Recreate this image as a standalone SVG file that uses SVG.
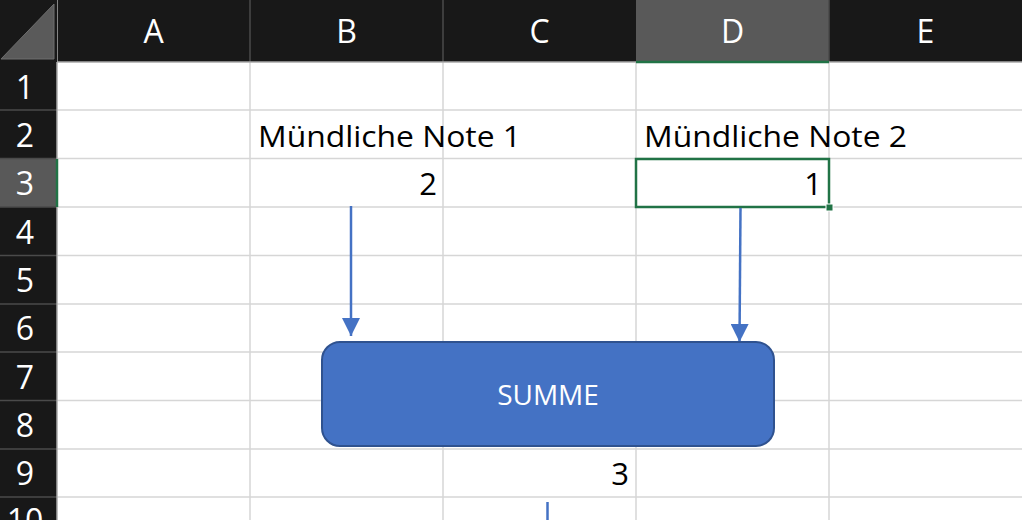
<svg xmlns="http://www.w3.org/2000/svg" width="1022" height="520" viewBox="0 0 1022 520">
  <defs>
    <style>
      .grid { stroke: #d6d6d6; stroke-width: 1.5; }
      .hsep { stroke: #4a4a4a; stroke-width: 1.5; }
      .hdr { font-family: "Open Sans", "Liberation Sans", sans-serif; font-size: 32px; fill: #ffffff; text-anchor: middle; }
      .cell { font-family: "Open Sans", "Liberation Sans", sans-serif; font-size: 30px; fill: #000000; }
      .num { text-anchor: end; font-size: 31px; }
      .conn { stroke: #4472C4; stroke-width: 2.5; fill: none; }
    </style>
    <marker id="arr" markerWidth="18" markerHeight="18" refX="17" refY="8.5" orient="auto" markerUnits="userSpaceOnUse" viewBox="0 0 17 17">
      <path d="M0,0 L17,8.5 L0,17 Z" fill="#4472C4"/>
    </marker>
  </defs>

  <!-- sheet background -->
  <rect x="0" y="0" width="1022" height="520" fill="#ffffff"/>

  <!-- grid lines -->
  <g id="grid">
    <line class="grid" x1="57" y1="110" x2="1022" y2="110"/>
    <line class="grid" x1="57" y1="158.5" x2="1022" y2="158.5"/>
    <line class="grid" x1="57" y1="207" x2="1022" y2="207"/>
    <line class="grid" x1="57" y1="255.5" x2="1022" y2="255.5"/>
    <line class="grid" x1="57" y1="304" x2="1022" y2="304"/>
    <line class="grid" x1="57" y1="352" x2="1022" y2="352"/>
    <line class="grid" x1="57" y1="400.5" x2="1022" y2="400.5"/>
    <line class="grid" x1="57" y1="449" x2="1022" y2="449"/>
    <line class="grid" x1="57" y1="497" x2="1022" y2="497"/>
    <line class="grid" x1="250" y1="62" x2="250" y2="520"/>
    <line class="grid" x1="443" y1="62" x2="443" y2="520"/>
    <line class="grid" x1="636" y1="62" x2="636" y2="520"/>
    <line class="grid" x1="829" y1="62" x2="829" y2="520"/>
  </g>

  <!-- headers -->
  <g id="column-headers">
    <rect x="0" y="0" width="1022" height="62" fill="#181818"/>
    <rect x="636" y="0" width="193" height="62" fill="#595959"/>
    <line class="hsep" x1="250" y1="0" x2="250" y2="62"/>
    <line class="hsep" x1="443" y1="0" x2="443" y2="62"/>
    <line class="hsep" x1="829" y1="0" x2="829" y2="62"/>
    <line x1="0" y1="62" x2="1022" y2="62" stroke="#a8a8a8" stroke-width="1.5"/>
    <line x1="636" y1="62" x2="829" y2="62" stroke="#217346" stroke-width="2.5"/>
    <text class="hdr" x="153.5" y="43">A</text>
    <text class="hdr" x="346.5" y="43">B</text>
    <text class="hdr" x="539.5" y="43">C</text>
    <text class="hdr" x="732.5" y="43">D</text>
    <text class="hdr" x="925.5" y="43">E</text>
  </g>

  <g id="row-headers">
    <rect x="0" y="62" width="57" height="458" fill="#181818"/>
    <rect x="0" y="159" width="57" height="48" fill="#595959"/>
    <line class="hsep" x1="0" y1="110" x2="57" y2="110"/>
    <line class="hsep" x1="0" y1="158.5" x2="57" y2="158.5"/>
    <line class="hsep" x1="0" y1="207" x2="57" y2="207"/>
    <line class="hsep" x1="0" y1="255.5" x2="57" y2="255.5"/>
    <line class="hsep" x1="0" y1="304" x2="57" y2="304"/>
    <line class="hsep" x1="0" y1="352" x2="57" y2="352"/>
    <line class="hsep" x1="0" y1="400.5" x2="57" y2="400.5"/>
    <line class="hsep" x1="0" y1="449" x2="57" y2="449"/>
    <line class="hsep" x1="0" y1="497" x2="57" y2="497"/>
    <line x1="57" y1="0" x2="57" y2="520" stroke="#a8a8a8" stroke-width="1.5"/>
    <line x1="57" y1="159" x2="57" y2="207" stroke="#217346" stroke-width="2.5"/>
    <text class="hdr" x="25" y="99">1</text>
    <text class="hdr" x="25" y="147">2</text>
    <text class="hdr" x="25" y="195">3</text>
    <text class="hdr" x="25" y="244">4</text>
    <text class="hdr" x="25" y="292">5</text>
    <text class="hdr" x="25" y="340">6</text>
    <text class="hdr" x="25" y="389">7</text>
    <text class="hdr" x="25" y="437">8</text>
    <text class="hdr" x="25" y="485">9</text>
    <text class="hdr" x="25" y="532">10</text>
  </g>

  <g id="corner">
    <rect x="0" y="0" width="57" height="62" fill="#181818"/>
    <polygon points="1,59 54,4 54,59" fill="#5a5a5a" stroke="#6e6e6e" stroke-width="1"/>
  </g>

  <!-- cell contents -->
  <g id="label-note1">
    <text class="cell" x="258" y="147" textLength="263" lengthAdjust="spacingAndGlyphs">Mündliche Note 1</text>
  </g>
  <g id="label-note2">
    <text class="cell" x="644" y="147" textLength="263" lengthAdjust="spacingAndGlyphs">Mündliche Note 2</text>
  </g>
  <g id="value-note1">
    <text class="cell num" x="437" y="195">2</text>
  </g>
  <g id="value-note2">
    <rect x="636" y="159" width="193" height="48" fill="none" stroke="#217346" stroke-width="2.5"/>
    <rect x="826" y="204" width="7" height="7" fill="#217346" stroke="#ffffff" stroke-width="1"/>
    <text class="cell num" x="822" y="195">1</text>
  </g>
  <g id="value-sum">
    <text class="cell num" x="629" y="485">3</text>
  </g>

  <!-- connectors -->
  <g id="connectors">
    <line class="conn" x1="351" y1="206" x2="351" y2="336" marker-end="url(#arr)"/>
    <line class="conn" x1="740.5" y1="208" x2="739.5" y2="342" marker-end="url(#arr)"/>
    <line class="conn" x1="547.5" y1="502" x2="547.5" y2="520"/>
  </g>

  <!-- SUMME node -->
  <g id="node-summe">
    <rect x="322" y="342" width="452" height="104" rx="18" ry="18" fill="#4472C4" stroke="#2F528F" stroke-width="2"/>
    <text x="548" y="405" font-family="'Open Sans', 'Liberation Sans', sans-serif" font-size="28" fill="#ffffff" text-anchor="middle">SUMME</text>
  </g>
</svg>
